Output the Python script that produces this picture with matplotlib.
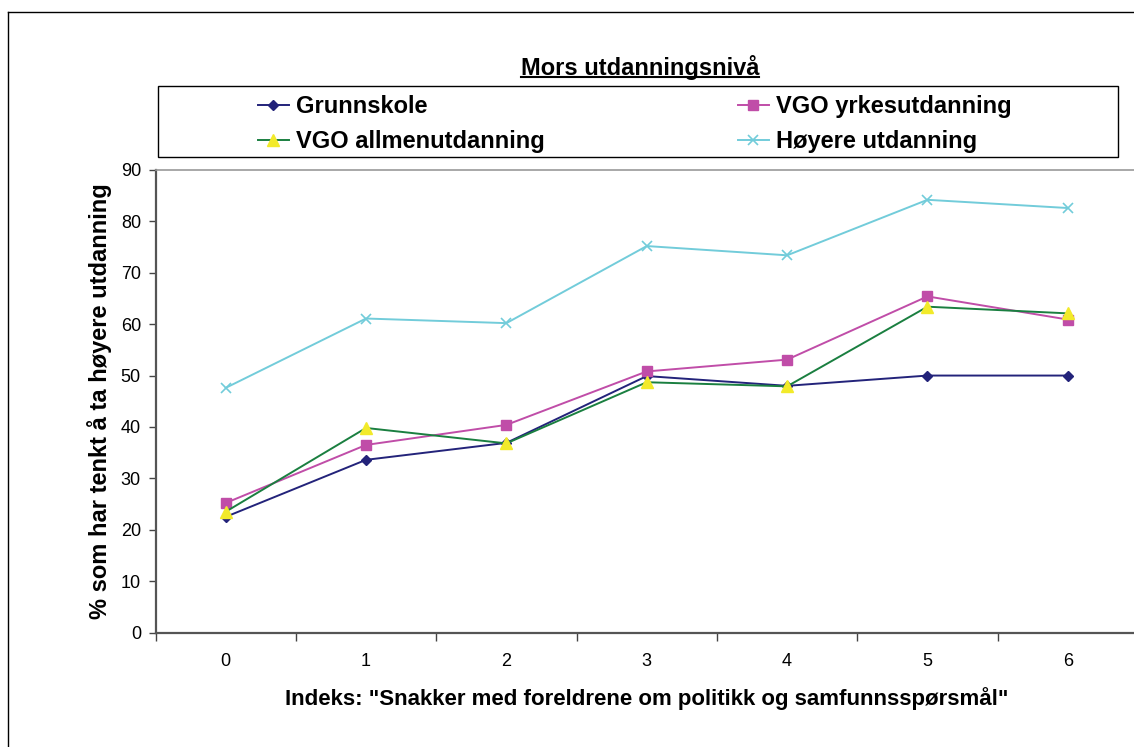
import matplotlib
matplotlib.use("Agg")
import matplotlib.pyplot as plt
from matplotlib.lines import Line2D
from matplotlib.patches import Rectangle

plt.rcParams['font.family'] = ['Liberation Sans', 'DejaVu Sans']

categories = [0, 1, 2, 3, 4, 5, 6]
grunnskole = [22.5, 33.6, 36.9, 49.9, 48.0, 50.0, 50.0]
vgo_yrke = [25.2, 36.5, 40.4, 50.8, 53.1, 65.4, 60.9]
vgo_allmen = [23.5, 39.8, 36.8, 48.7, 47.9, 63.4, 62.1]
hoyere = [47.6, 61.1, 60.2, 75.2, 73.4, 84.2, 82.6]
yticks = [0, 10, 20, 30, 40, 50, 60, 70, 80, 90]

W, H = 1134, 747
fig = plt.figure(figsize=(W / 100, H / 100), dpi=100)

def fx(px):
    return px / W

def fy(py):
    return 1 - py / H

ax_left, ax_right = 155.5, 1138
ax_top, ax_bot = 170, 632.5
ax = fig.add_axes([fx(ax_left), fy(ax_bot), fx(ax_right - ax_left), (ax_bot - ax_top) / H])

navy = '#23237A'
pink = '#C04DA8'
green = '#1A7F40'
yellow = '#F2EA2A'
cyan = '#72CCDA'

l1, = ax.plot(categories, grunnskole, color=navy, lw=1.4, marker='D', ms=5.5,
              mfc=navy, mec=navy, label='Grunnskole')
l2, = ax.plot(categories, vgo_yrke, color=pink, lw=1.4, marker='s', ms=6.5,
              mfc=pink, mec=pink, label='VGO yrkesutdanning')
l3, = ax.plot(categories, vgo_allmen, color=green, lw=1.4, marker='^', ms=8,
              mfc=yellow, mec=yellow, label='VGO allmenutdanning')
l4, = ax.plot(categories, hoyere, color=cyan, lw=1.4, marker='x', ms=7.5, mew=1.2,
              mfc=cyan, mec=cyan, label='Høyere utdanning')

ax.set_xlim(-0.5, 6.5)
ax.set_ylim(0, 90)
ax.set_yticks(yticks)
ax.set_yticklabels([str(v) for v in yticks], fontsize=13)
ax.set_xticks(categories)
ax.set_xticklabels([str(c) for c in categories], fontsize=13)
ax.set_xticks([c - 0.5 for c in categories] + [6.5], minor=True)
ax.tick_params(axis='x', which='major', length=0, pad=15)
ax.tick_params(axis='x', which='minor', length=6, width=1, color='#444444', direction='out')
ax.tick_params(axis='y', length=5, width=1, color='#444444', direction='out', pad=5.5)

for s in ['left', 'bottom']:
    ax.spines[s].set_color('#555555')
    ax.spines[s].set_linewidth(1.6)
ax.spines['top'].set_color('#999999')
ax.spines['top'].set_linewidth(1.2)
ax.spines['right'].set_visible(False)

ax.set_ylabel('% som har tenkt å ta høyere utdanning', fontsize=17, fontweight='bold', labelpad=6.5)
ax.set_xlabel('Indeks: "Snakker med foreldrene om politikk og samfunnsspørsmål"',
              fontsize=16, fontweight='bold', labelpad=12)

# outer border
fig.add_artist(Line2D([fx(8), fx(8)], [fy(12), 0], transform=fig.transFigure, color='black', lw=1))
fig.add_artist(Line2D([fx(8), 1], [fy(12), fy(12)], transform=fig.transFigure, color='black', lw=1))

# title with underline
title = fig.text(fx(640), fy(67), 'Mors utdanningsnivå', ha='center', va='center',
                 fontsize=17, fontweight='bold')

# legend frame
fig.add_artist(Rectangle((fx(158), fy(157)), fx(1118 - 158), (157 - 86) / H,
                         transform=fig.transFigure, fill=False, ec='black', lw=1))
leg = fig.legend([l1, l3, l2, l4],
                 ['Grunnskole', 'VGO allmenutdanning', 'VGO yrkesutdanning', 'Høyere utdanning'],
                 ncol=2, loc='center left', bbox_to_anchor=(fx(258), fy(124)),
                 frameon=False, prop={'weight': 'bold', 'size': 17},
                 handlelength=1.3, handletextpad=0.3, columnspacing=8.2,
                 labelspacing=0.5, borderaxespad=0, borderpad=0)

fig.canvas.draw()
r = fig.canvas.get_renderer()
bb = title.get_window_extent(r).transformed(fig.transFigure.inverted())
fig.add_artist(Line2D([bb.x0, bb.x1], [bb.y0 + 0.003, bb.y0 + 0.003],
                      transform=fig.transFigure, color='black', lw=1.5))

fig.savefig('out.png', dpi=100)
